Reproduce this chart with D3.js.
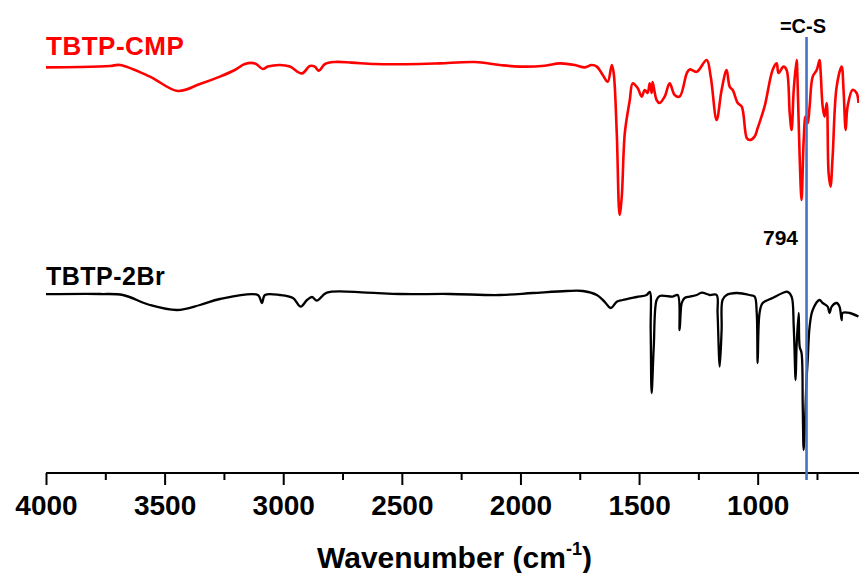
<!DOCTYPE html>
<html><head><meta charset="utf-8">
<script src="https://cdn.jsdelivr.net/npm/d3@7"></script>
<style>
html,body{margin:0;padding:0;background:#fff;}
svg{display:block;font-family:"Liberation Sans",Arial,sans-serif;}
</style></head>
<body><div id="chart"></div>
<script>
// TBTP-CMP spectrum (wavenumber, transmittance a.u.)
const cmpWavenumber = [4000,3857,3730,3688,3562,3444,3351,3267,3204,3162,3119,3086,3065,3014,2972,2921,2888,2867,2850,2824,2782,2711,2614,2424,2340,2192,2087,2003,1898,1834,1771,1729,1700,1678,1653,1632,1615,1607,1594,1582,1573,1560,1539,1527,1506,1489,1476,1464,1455,1447,1443,1426,1413,1392,1371,1350,1329,1299,1287,1257,1215,1198,1173,1152,1131,1118,1105,1084,1067,1046,1034,1013,1000,971,937,920,912,891,878,865,857,848,836,832,823,815,806,798,789,781,768,751,739,735,726,718,709,701,693,684,667,646,638,629,621,600,583,575];
const cmpValue = [101.4,101.5,101.75,102,99.1,95.5,97.25,99.1,100.75,102.25,102.4,101,101.6,102,101.6,99.9,101.75,101.6,100.6,102.25,102.75,102.6,102.25,102.25,102.4,102.75,102,101.6,101.8,102.4,102,101.4,102,101.6,99.5,97.8,102,100,85,64.5,69,85,93.25,97.4,96.25,94.1,95.75,95,97.4,95,97.75,93.25,92.5,94.1,97.4,94.5,94.1,99.9,100.9,100.3,103.25,99.1,88.25,95.75,100.75,96.6,95.75,92.5,91.6,83.75,83.25,84.1,86.25,91.6,100.75,102.4,100,101.6,100.75,90,85.75,95.75,103.25,98.25,79.1,68.25,83.25,89.1,87.5,91.6,99.1,100.75,103.25,100.75,91.6,89.1,92.5,75,71.6,79.1,96.6,101.6,95.75,85.75,91.6,95.75,95,92.5];

// TBTP-2Br spectrum
const brWavenumber = [4000,3772,3676,3562,3448,3351,3267,3107,3090,3077,3014,2959,2926,2900,2879,2858,2816,2648,2508,2298,2087,1948,1805,1737,1678,1645,1619,1594,1569,1510,1468,1455,1451,1447,1438,1426,1413,1358,1337,1329,1320,1308,1287,1257,1236,1202,1173,1169,1160,1152,1148,1131,1089,1034,1013,1004,1000,992,979,937,895,874,857,848,840,836,827,823,815,810,806,794,789,781,768,739,726,705,697,688,667,655,646,642,612,575];
const brValue = [44.7,44.75,44.5,42,40.75,42,43.5,44.5,42.5,44.5,44.5,43.75,41.6,43.25,44,43.1,45.1,45.1,44.75,44.75,44.5,45,45.5,45.5,44.5,42.8,41.25,42.8,43.25,44,44.5,45.3,35.75,20,31.6,43.25,44.25,44.1,44.5,35.75,42.5,43.75,44.1,44.5,45.1,44.5,44.5,40,26.6,35.75,43.25,44.5,45,44.5,44.1,40,27.5,40,42.5,43.75,45,45.3,44.1,36.6,23.25,31.6,40,31.6,30,16.6,5.75,23.25,28.25,36.6,40.75,43.25,42.5,41.6,40,41.6,42.5,41.6,38.25,40,40,39.1];

const seriesNames = ["TBTP-CMP","TBTP-2Br"];
const seriesColors = ["#ff0000","#000000"];
const majorTicks = [4000,3500,3000,2500,2000,1500,1000];
const minorTicks = [3750,3250,2750,2250,1750,1250,750];
const markerWavenumber = 794;
const markerLabel = "794";
const bondLabel = "=C-S";
const xTitle = "Wavenumber (cm";

const W = 859, H = 573;
const svg = d3.select("#chart").append("svg").attr("width", W).attr("height", H);

const x = d3.scaleLinear().domain([4000, 400]).range([46, 900]);
const y = d3.scaleLinear().domain([0, 110]).range([473, 33]);

const line = d3.line().x(d => x(d[0])).y(d => y(d[1])).curve(d3.curveCatmullRom.alpha(0.5));

const cmp = cmpWavenumber.map((w, i) => [w, cmpValue[i]]);
const br = brWavenumber.map((w, i) => [w, brValue[i]]);

svg.append("path").datum(cmp).attr("d", line).attr("fill", "none")
  .attr("stroke", seriesColors[0]).attr("stroke-width", 2.6).attr("stroke-linejoin", "round");
svg.append("path").datum(br).attr("d", line).attr("fill", "none")
  .attr("stroke", seriesColors[1]).attr("stroke-width", 2.3).attr("stroke-linejoin", "round");

// series labels
svg.append("text").attr("x", 46).attr("y", 55).attr("fill", seriesColors[0])
  .attr("font-size", 26).attr("font-weight", "bold").attr("letter-spacing", 0.5).text(seriesNames[0]);
svg.append("text").attr("x", 46).attr("y", 285).attr("fill", seriesColors[1])
  .attr("font-size", 25).attr("font-weight", "bold").attr("letter-spacing", 0.5).text(seriesNames[1]);

// x axis
const axisG = svg.append("g").attr("transform", "translate(0,473)");
axisG.append("line").attr("x1", 46).attr("x2", W).attr("y1", 0).attr("y2", 0)
  .attr("stroke", "#000").attr("stroke-width", 2);
const ax = d3.axisBottom(x).tickValues(majorTicks).tickSize(12).tickFormat(d3.format("d"));
const g1 = axisG.append("g").call(ax);
g1.select(".domain").remove();
g1.selectAll(".tick line").attr("stroke", "#000").attr("stroke-width", 2);
g1.selectAll(".tick text").attr("y", 42).attr("dy", null)
  .attr("font-size", 28).attr("font-weight", "bold").attr("fill", "#000")
  .attr("font-family", "Liberation Sans, Arial, sans-serif");
const axm = d3.axisBottom(x).tickValues(minorTicks).tickSize(7).tickFormat("");
const g2 = axisG.append("g").call(axm);
g2.select(".domain").remove();
g2.selectAll(".tick line").attr("stroke", "#000").attr("stroke-width", 2);

// axis title
const t = svg.append("text").attr("x", 317).attr("y", 568)
  .attr("font-size", 30).attr("font-weight", "bold").attr("fill", "#000");
t.append("tspan").text(xTitle);
t.append("tspan").attr("font-size", 18).attr("dy", -13).text("-1");
t.append("tspan").attr("dy", 13).text(")");

// marker line
svg.append("line").attr("x1", x(markerWavenumber)).attr("x2", x(markerWavenumber))
  .attr("y1", 37).attr("y2", 480).attr("stroke", "#4472c4").attr("stroke-width", 2.6);
svg.append("text").attr("x", 803).attr("y", 33).attr("text-anchor", "middle")
  .attr("font-size", 20).attr("font-weight", "bold").attr("fill", "#000").text(bondLabel);
svg.append("text").attr("x", 798).attr("y", 245).attr("text-anchor", "end")
  .attr("font-size", 21).attr("font-weight", "bold").attr("fill", "#000").text(markerLabel);
</script></body></html>
